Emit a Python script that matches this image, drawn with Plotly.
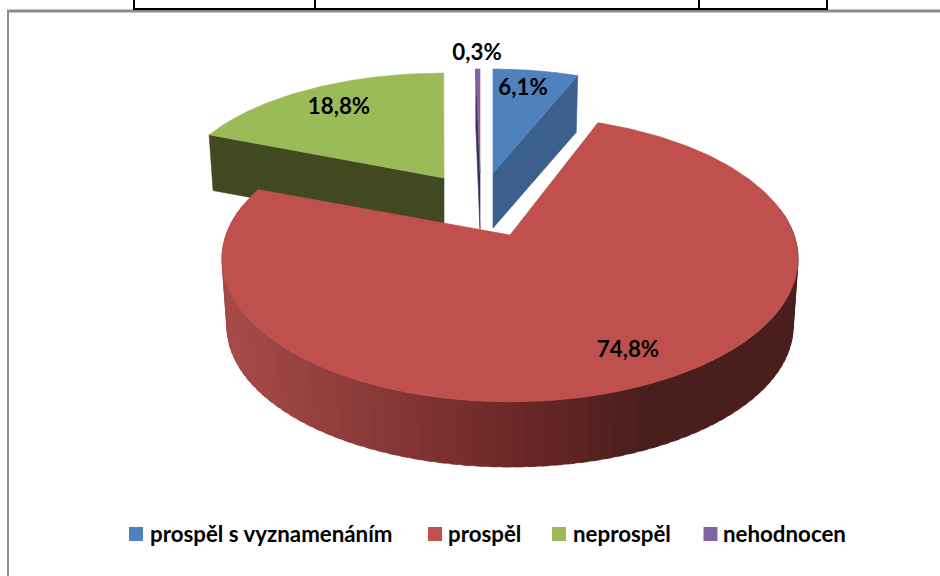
import math
import plotly.graph_objects as go

# ---- data ----
CATEGORIES = ["prospěl s vyznamenáním", "prospěl", "neprospěl", "nehodnocen"]
VALUES = [6.1, 74.8, 18.8, 0.3]
VALUE_LABELS = ["6,1%", "74,8%", "18,8%", "0,3%"]

# ---- styles ----
TOP_COLORS = ["#4f81bd", "#c0504d", "#9bbb59", "#8064a2"]
SIDE_COLORS = ["#3b608e", None, "#40491f", "#3a2b52"]
TEXT_FONT = dict(family="Lato", size=22.3, color="#000000", weight="bold")

# ---- layout of the exploded wedges: apex, scale, perspective, depth, small rotation (deg) ----
WEDGES = [
    dict(ax=493, ay=173, A=258, K=119.6, p=0.15, depth=55, rot=0),
    dict(ax=510, ay=235, A=284, K=139, p=0.167, depth=68, rot=-1),
    dict(ax=444, ay=178, A=268, K=120.5, p=0.148, depth=55, rot=1),
    dict(ax=480, ay=173, A=258, K=119.6, p=0.15, depth=56, rot=0),
]
LABEL_POS = [(523, 89), (628, 351), (339, 108), (477, 54)]
LEGEND_MARK = [(136, 534), (435, 534), (559, 534), (710.5, 534)]
LEGEND_TEXT_Y = 536
LEGEND_TEXT_X = [150, 448, 573, 723]
BOTTOM_SCALE = 0.983
GRADIENT = [(228, (165, 75, 72)), (500, (110, 41, 40)), (640, (74, 30, 29)), (800, (74, 30, 29))]


def project(w, theta, r=1.0, scale=1.0, dy=0.0):
    theta = theta + math.radians(w["rot"])
    X, Y = r * math.sin(theta), r * math.cos(theta)
    d = 1 + w["p"] * Y
    return w["ax"] + scale * w["A"] * X / d, w["ay"] - scale * w["K"] * Y / d + dy


def gradient_color(x):
    for (x0, c0), (x1, c1) in zip(GRADIENT, GRADIENT[1:]):
        if x <= x1:
            t = max(0.0, (x - x0) / (x1 - x0))
            c = [round(a + (b - a) * t) for a, b in zip(c0, c1)]
            return f"rgb({c[0]},{c[1]},{c[2]})"
    return f"rgb{GRADIENT[-1][1]}"


def poly(xs, ys, color, width=0.6):
    return go.Scatter(x=xs + xs[:1], y=ys + ys[:1], mode="lines", fill="toself",
                      fillcolor=color, line=dict(color=color, width=width),
                      hoverinfo="skip", showlegend=False)


total = sum(VALUES)
angles = []
acc = 0.0
for v in VALUES:
    angles.append((acc / total * 2 * math.pi, (acc + v) / total * 2 * math.pi))
    acc += v

fig = go.Figure()


def top_face(i):
    w = WEDGES[i]
    a0, a1 = angles[i]
    n = max(4, int((a1 - a0) * 60))
    pts = [project(w, a0 + (a1 - a0) * k / n) for k in range(n + 1)]
    xs = [w["ax"]] + [p[0] for p in pts]
    ys = [w["ay"]] + [p[1] for p in pts]
    return poly(xs, ys, TOP_COLORS[i])


def radial_side(i, theta):
    w = WEDGES[i]
    ex, ey = project(w, theta)
    bx, by = project(w, theta, scale=BOTTOM_SCALE, dy=w["depth"])
    return poly([w["ax"], ex, bx, w["ax"]], [w["ay"], ey, by, w["ay"] + w["depth"]], SIDE_COLORS[i])


# back wedges: radial cut faces, then their tops
fig.add_trace(radial_side(2, angles[2][0]))
fig.add_trace(top_face(2))
fig.add_trace(radial_side(3, angles[3][0]))
fig.add_trace(top_face(3))
fig.add_trace(radial_side(0, angles[0][1]))
fig.add_trace(top_face(0))

# big wedge: outer wall as shaded strips (each overlaps the next one), then its top
w = WEDGES[1]
a0, a1 = math.radians(80), math.radians(282)
STRIPS = 90
for k in range(STRIPS):
    t0 = a0 + (a1 - a0) * k / STRIPS
    t1 = a0 + (a1 - a0) * (k + 1.6) / STRIPS
    p0, p1 = project(w, t0), project(w, t1)
    q0, q1 = project(w, t0, scale=BOTTOM_SCALE, dy=w["depth"]), project(w, t1, scale=BOTTOM_SCALE, dy=w["depth"])
    fig.add_trace(poly([p0[0], p1[0], q1[0], q0[0]], [p0[1], p1[1], q1[1], q0[1]],
                       gradient_color((p0[0] + p1[0]) / 2), width=0.5))
fig.add_trace(top_face(1))

# value labels
fig.add_trace(go.Scatter(x=[p[0] for p in LABEL_POS], y=[p[1] for p in LABEL_POS],
                         text=VALUE_LABELS, mode="text", textposition="middle center",
                         textfont=TEXT_FONT, hoverinfo="skip", showlegend=False))

# legend row
fig.add_trace(go.Scatter(x=[p[0] for p in LEGEND_MARK], y=[p[1] for p in LEGEND_MARK], mode="markers",
                         marker=dict(symbol="square", size=14, color=TOP_COLORS, line=dict(width=0)),
                         hoverinfo="skip", showlegend=False))
fig.add_trace(go.Scatter(x=LEGEND_TEXT_X, y=[LEGEND_TEXT_Y] * len(CATEGORIES), text=CATEGORIES, mode="text",
                         textposition="middle right", textfont=TEXT_FONT,
                         hoverinfo="skip", showlegend=False))

# surrounding page frame and table remnant
GRAY = "#8c8c8c"
shapes = [
    dict(type="line", x0=7, x1=940, y0=11, y1=11, line=dict(color=GRAY, width=3)),
    dict(type="line", x0=8, x1=8, y0=10, y1=576, line=dict(color=GRAY, width=2)),
    dict(type="line", x0=133, x1=828, y0=9, y1=9, line=dict(color="#000000", width=2)),
]
for vx in (134, 315, 699, 827):
    shapes.append(dict(type="line", x0=vx, x1=vx, y0=0, y1=9, line=dict(color="#000000", width=2)))

fig.update_layout(
    width=940, height=576, margin=dict(l=0, r=0, t=0, b=0),
    paper_bgcolor="#ffffff", plot_bgcolor="#ffffff", showlegend=False, shapes=shapes,
    xaxis=dict(range=[0, 940], visible=False, fixedrange=True),
    yaxis=dict(range=[576, 0], visible=False, fixedrange=True),
)
fig.write_html("out.html", config=dict(displayModeBar=False),
               post_script="document.body.style.margin='0';")
